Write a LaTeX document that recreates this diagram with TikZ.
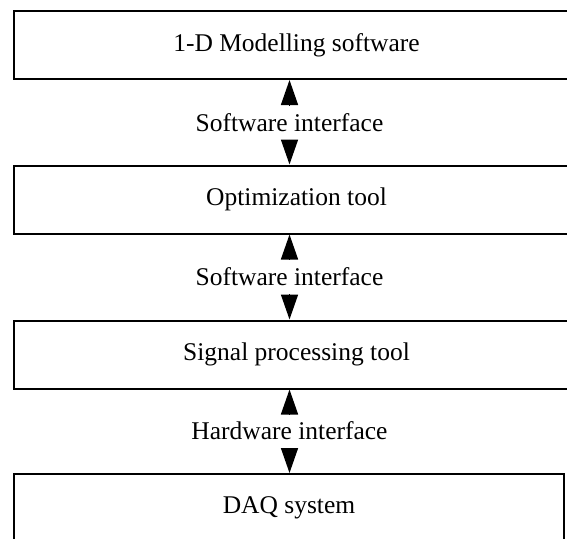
\documentclass[tikz,border=0pt]{standalone}
\usepackage{fontspec}
\setmainfont{Liberation Serif}
\usetikzlibrary{arrows.meta}
\begin{document}
\begin{tikzpicture}[x=1pt, y=-1pt,
    block/.style={draw=black, line width=2pt, minimum height=68pt, inner sep=0pt},
    iface/.style={inner sep=2pt},
    link/.style={-{Triangle[length=25pt,width=17pt]}, line width=1.5pt, shorten <=6pt},
    every node/.style={font=\fontsize{25.5}{30}\selectfont}]
    \useasboundingbox (0, 0) rectangle (567, 538);
    \clip (0, 0) rectangle (567, 538);
    %Nodes
    \node[block, minimum width=565pt] at (296.5, 45) (model) {1-D Modelling software};
    \node[block, minimum width=565pt] at (296.5, 199.5) (opt) {Optimization tool};
    \node[block, minimum width=565pt] at (296.5, 354.5) (sig) {Signal processing tool};
    \node[block, minimum width=550pt] at (289, 508) (daq) {DAQ system};
    
    \node[iface] at (289.5, 122.5) (sw1) {Software interface};
    \node[iface] at (289.5, 277) (sw2) {Software interface};
    \node[iface] at (289.5, 431) (hw) {Hardware interface};
    
    %Lines
    \draw[link] (sw1.north) -- (model.south -| sw1.north);
    \draw[link] (sw1.south) -- (opt.north -| sw1.south);
    \draw[link] (sw2.north) -- (opt.south -| sw2.north);
    \draw[link] (sw2.south) -- (sig.north -| sw2.south);
    \draw[link] (hw.north) -- (sig.south -| hw.north);
    \draw[link] (hw.south) -- (daq.north -| hw.south);
    
\end{tikzpicture}
\end{document}
